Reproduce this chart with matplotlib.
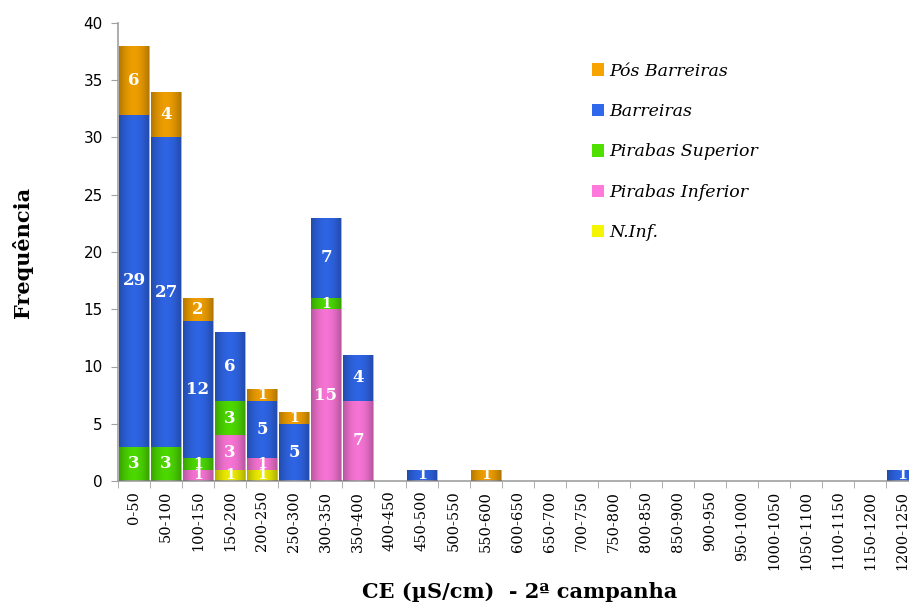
import numpy as np
import matplotlib
matplotlib.use("Agg")
import matplotlib.pyplot as plt
from matplotlib.patches import Rectangle

categories = ["0-50", "50-100", "100-150", "150-200", "200-250", "250-300",
              "300-350", "350-400", "400-450", "450-500", "500-550", "550-600",
              "600-650", "650-700", "700-750", "750-800", "800-850", "850-900",
              "900-950", "950-1000", "1000-1050", "1050-1100", "1100-1150",
              "1150-1200", "1200-1250"]

n_inf     = [0, 0, 0, 1, 1, 0, 0, 0, 0, 0, 0, 0, 0, 0, 0, 0, 0, 0, 0, 0, 0, 0, 0, 0, 0]
pir_inf   = [0, 0, 1, 3, 1, 0, 15, 7, 0, 0, 0, 0, 0, 0, 0, 0, 0, 0, 0, 0, 0, 0, 0, 0, 0]
pir_sup   = [3, 3, 1, 3, 0, 0, 1, 0, 0, 0, 0, 0, 0, 0, 0, 0, 0, 0, 0, 0, 0, 0, 0, 0, 0]
barreiras = [29, 27, 12, 6, 5, 5, 7, 4, 0, 1, 0, 0, 0, 0, 0, 0, 0, 0, 0, 0, 0, 0, 0, 0, 1]
pos_barr  = [6, 4, 2, 0, 1, 1, 0, 0, 0, 0, 0, 1, 0, 0, 0, 0, 0, 0, 0, 0, 0, 0, 0, 0, 0]

series = [
    ("N.Inf.", n_inf, "#F5F500"),
    ("Pirabas Inferior", pir_inf, "#FF78DC"),
    ("Pirabas Superior", pir_sup, "#4FE000"),
    ("Barreiras", barreiras, "#3068EC"),
    ("Pós Barreiras", pos_barr, "#F7A400"),
]

W, H = 909, 608
fig = plt.figure(figsize=(W / 100, H / 100), dpi=100)
# plot area: x from 118 px to 918 px (last column runs past the right edge)
ax = fig.add_axes([118 / W, (H - 481) / H, 800 / W, (481 - 23) / H])

x = np.arange(len(categories))
bw = 0.94
bottom = np.zeros(len(categories))
handles = []
for name, vals, col in series:
    vals = np.array(vals, dtype=float)
    b = ax.bar(x, vals, bw, bottom=bottom, color=col, edgecolor="none", zorder=2)
    handles.append((b, name))
    for xi, v, b0 in zip(x, vals, bottom):
        if v > 0:
            ax.text(xi, b0 + v / 2, f"{int(v)}", ha="center", va="center",
                    color="white", fontsize=12 if v > 1 else 10, fontweight="bold",
                    family="DejaVu Serif", zorder=4)
    bottom += vals

# cylinder-like shading across each stacked column
grad = np.linspace(0, 1, 64)
alpha = 0.38 * (1 - np.sin(np.pi * (0.12 + 0.78 * grad))) + 0.04
shade = np.zeros((1, 64, 4))
shade[0, :, 3] = alpha
for xi, tot in zip(x, bottom):
    if tot > 0:
        rect = Rectangle((xi - bw / 2, 0), bw, tot, transform=ax.transData,
                         facecolor="none", edgecolor="none")
        ax.add_patch(rect)
        im = ax.imshow(shade, extent=(xi - bw / 2, xi + bw / 2, 0, tot),
                       aspect="auto", zorder=3, interpolation="bilinear")
        im.set_clip_path(rect)

ax.set_xlim(-0.5, len(categories) - 0.5)
ax.set_ylim(0, 40)
ax.set_yticks(np.arange(0, 41, 5))
ax.set_xticks(x)
ax.set_xticklabels(categories, rotation=90)
for lab in ax.get_xticklabels():
    lab.set_family("DejaVu Serif")
    lab.set_fontsize(10.5)
ax.set_xticks(np.arange(-0.5, len(categories), 1), minor=True)
ax.tick_params(axis="x", which="major", length=0, pad=7)
ax.tick_params(axis="x", which="minor", length=5, color="#A0A0A0", direction="out")
ax.tick_params(axis="y", length=5, color="#A0A0A0", labelsize=11, pad=6)

for s in ["top", "right"]:
    ax.spines[s].set_visible(False)
for s in ["left", "bottom"]:
    ax.spines[s].set_color("#A0A0A0")
    ax.spines[s].set_linewidth(1.2)

fig.text(22 / W, 1 - 252 / H, "Frequência", rotation=90, ha="center", va="center",
         fontsize=15, fontweight="bold", family="DejaVu Serif")
fig.text(520 / W, 1 - 592 / H, "CE (µS/cm)  - 2ª campanha", ha="center", va="center",
         fontsize=15, fontweight="bold", family="DejaVu Serif")

leg = ax.legend([h for h, _ in reversed(handles)], [n for _, n in reversed(handles)],
                loc="upper left", bbox_to_anchor=(576 / W, 1 - 47 / H),
                bbox_transform=fig.transFigure, frameon=False,
                prop={"family": "DejaVu Serif", "style": "italic", "size": 12.5},
                handlelength=0.7, handleheight=0.7, handletextpad=0.3,
                labelspacing=1.35)

fig.savefig("out.png", dpi=100)
